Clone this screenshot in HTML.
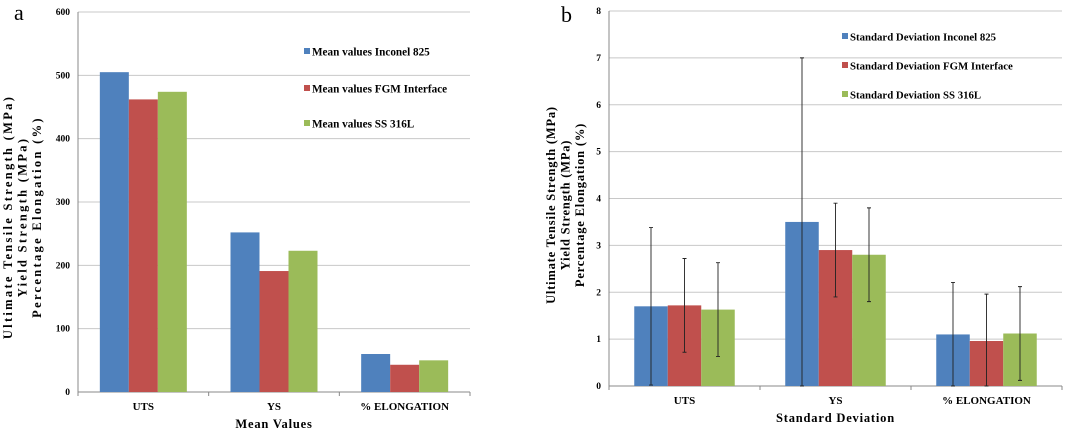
<!DOCTYPE html>
<html><head><meta charset="utf-8"><style>
html,body{margin:0;padding:0;background:#fff;}
svg{display:block;font-family:"Liberation Serif",serif;}
</style></head><body>
<svg id="chart" width="1080" height="429" viewBox="0 0 1080 429"></svg>
<script>
const categories = ["UTS", "YS", "% ELONGATION"];
const meanInconel = [505, 252, 60];
const meanFGM = [462, 191, 43];
const meanSS = [474, 223, 50];
const meanTicks = [0, 100, 200, 300, 400, 500, 600];
const meanLegend = ["Mean values Inconel 825", "Mean values FGM Interface", "Mean values SS 316L"];
const sdInconel = [1.7, 3.5, 1.1];
const sdFGM = [1.72, 2.9, 0.96];
const sdSS = [1.63, 2.8, 1.12];
const errInconel = [1.68, 3.5, 1.11];
const errFGM = [1.0, 1.0, 1.0];
const errSS = [1.0, 1.0, 1.0];
const sdTicks = [0, 1, 2, 3, 4, 5, 6, 7, 8];
const sdLegend = ["Standard Deviation Inconel 825", "Standard Deviation FGM Interface", "Standard Deviation SS 316L"];
const colors = ["#4f81bd", "#c0504d", "#9bbb59"];

const svg = document.getElementById('chart');
const NS = 'http://www.w3.org/2000/svg';
function mk(tag, attrs, parent) {
  const e = document.createElementNS(NS, tag);
  for (const k in attrs) e.setAttribute(k, attrs[k]);
  (parent || svg).appendChild(e);
  return e;
}

function drawChart(cfg) {
  const g = mk('g', {});
  
  
  const yMax = cfg.ticks[cfg.ticks.length - 1];
  const y = v => cfg.y0 - (v / yMax) * (cfg.y0 - cfg.y1);
  const band = (cfg.x1 - cfg.x0) / categories.length;
  cfg.ticks.forEach(t => {
    const gl = mk('line', {x1: cfg.x0, x2: cfg.x1, y1: y(t), y2: y(t), stroke: t === 0 ? '#888' : '#c8c8c8', 'stroke-width': 1}, g);
    
    
    const tl = mk('text', {x: cfg.x0 - 8, y: y(t) + 3, 'text-anchor': 'end', 'font-size': 9.5, 'font-weight': 'bold'}, g);
    tl.textContent = t;
    
    
  });
  const ax = mk('line', {x1: cfg.x0, x2: cfg.x0, y1: cfg.y1, y2: cfg.y0, stroke: '#888'}, g);
  
  
  for (let i = 0; i <= categories.length; i++) {
    const tk = mk('line', {x1: cfg.x0 + i * band, x2: cfg.x0 + i * band, y1: cfg.y0, y2: cfg.y0 + 4, stroke: '#888'}, g);
    
    
  }
  categories.forEach((c, i) => {
    const cx = cfg.x0 + band * (i + 0.5);
    const left = cx - 1.5 * cfg.bw;
    cfg.series.forEach((s, j) => {
      const bx = left + j * cfg.bw;
      const r = mk('rect', {x: bx, y: y(s[i]), width: cfg.bw, height: cfg.y0 - y(s[i]), fill: colors[j]}, g);
      
      
      if (cfg.errs) {
        const e = cfg.errs[j][i];
        const ex = bx + cfg.bw / 2;
        const top = y(s[i] + e), bot = y(Math.max(0, s[i] - e));
        const el = mk('path', {d: `M${ex},${top}V${bot}M${ex-2},${top}H${ex+2}M${ex-2},${bot}H${ex+2}`, stroke: '#222', 'stroke-width': 0.9, fill: 'none'}, g);
        
        
      }
    });
    const cl = mk('text', {x: cx, y: cfg.y0 + 18, 'text-anchor': 'middle', 'font-size': 11, 'font-weight': 'bold'}, g);
    cl.textContent = c;
    
    
  });
  const xt = mk('text', {x: cfg.x0 + (cfg.x1 - cfg.x0) / 2, y: cfg.y0 + 36, 'text-anchor': 'middle', 'font-size': 12.5, 'font-weight': 'bold', 'letter-spacing': 0.8}, g);
  xt.textContent = cfg.xTitle;
  
  
  const yt = ["Ultimate Tensile Strength (MPa)", "Yield Strength (MPa)", "Percentage Elongation (%)"];
  yt.forEach((t, k) => {
    const tx = cfg.ytx + k * 14.5;
    const tt = mk('text', {x: tx, y: cfg.yty, transform: `rotate(-90 ${tx} ${cfg.yty})`, 'text-anchor': 'middle', 'font-size': 12.5, 'font-weight': 'bold', 'letter-spacing': cfg.ls}, g);
    tt.textContent = t;
    
    
  });
  cfg.legend.forEach((t, j) => {
    const ly = cfg.ly[j];
    const sq = mk('rect', {x: cfg.lx, y: ly - 4, width: 6, height: 6, fill: colors[j]}, g);
    
    
    const lt = mk('text', {x: cfg.lx + 8, y: ly + 3.5, 'font-size': cfg.lfs, 'font-weight': 'bold'}, g);
    lt.textContent = t;
    
    
  });
  const pl = mk('text', {x: cfg.px, y: cfg.py, 'font-size': 22}, g);
  pl.textContent = cfg.panel;
  
  
}

drawChart({name: 'chart-a-mean-values', x0: 78, x1: 470, y0: 392, y1: 12, bw: 29, ticks: meanTicks,
  series: [meanInconel, meanFGM, meanSS], legend: meanLegend, lx: 304, ly: [52, 89, 124], lfs: 11.2,
  xTitle: 'Mean Values', ytx: 12, yty: 217, ls: 2.3, panel: 'a', px: 14, py: 20});
drawChart({name: 'chart-b-standard-deviation', x0: 609, x1: 1062, y0: 386, y1: 11, bw: 33.5, ticks: sdTicks,
  series: [sdInconel, sdFGM, sdSS], errs: [errInconel, errFGM, errSS], legend: sdLegend, lx: 842, ly: [37, 66, 95], lfs: 10.8,
  xTitle: 'Standard Deviation', ytx: 555, yty: 205, ls: 0.8, panel: 'b', px: 561, py: 22});
</script>
</body></html>
